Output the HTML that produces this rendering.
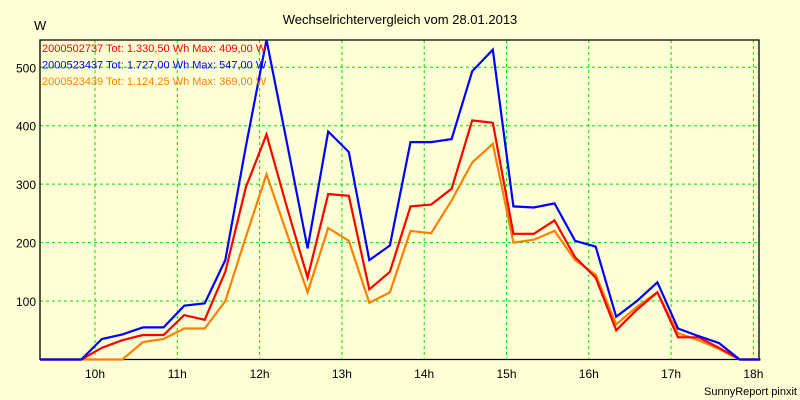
<!DOCTYPE html>
<html><head><meta charset="utf-8"><style>
body{margin:0;background:#ffffd6;}
svg{display:block;font-family:"Liberation Sans",sans-serif;}
</style></head><body>
<svg width="800" height="400">
<rect width="800" height="400" fill="#ffffd6"/>
<text x="400" y="24" font-size="13" text-anchor="middle">Wechselrichtervergleich vom 28.01.2013</text>
<text x="34" y="30" font-size="13">W</text>
<g id="grid"></g><g id="axes"></g><g id="series"></g><g id="legend"></g>
<text x="797" y="395" font-size="11" text-anchor="end">SunnyReport pinxit</text>
</svg>
<script>
const hourTicks=[10,11,12,13,14,15,16,17,18];
const yTicks=[100,200,300,400,500];
const startHour=9+20/60, stepHour=0.25;
const seriesNames=["2000502737 Tot: 1.330,50 Wh Max: 409,00 W","2000523437 Tot: 1.727,00 Wh Max: 547,00 W","2000523439 Tot: 1.124,25 Wh Max: 369,00 W"];
const redValues=[0,0,0,20,33,42,42,76,68,150,295,385,260,140,283,280,120,150,262,265,292,409,405,215,215,238,175,140,50,85,115,38,38,20,0,0];
const blueValues=[0,0,0,35,43,55,55,92,96,170,365,547,370,190,390,355,170,195,372,372,377,493,530,262,260,267,203,193,73,100,132,53,40,28,0,0];
const orangeValues=[0,0,0,0,0,30,35,53,53,100,210,317,215,115,225,203,97,115,220,216,272,337,369,200,205,220,170,145,60,90,115,45,33,18,0,0];
const L=40,R=759,T=40,B=359.5;
const xH=h=>95+(h-10)*82.3;
const yV=v=>B-v*0.5845;
const NS="http://www.w3.org/2000/svg";
function mk(tag,attrs,parent){const e=document.createElementNS(NS,tag);for(const k in attrs)e.setAttribute(k,attrs[k]);parent.appendChild(e);return e;}
const grid=document.getElementById('grid'),axes=document.getElementById('axes'),ser=document.getElementById('series'),leg=document.getElementById('legend');
mk('rect',{x:L,y:T,width:R-L,height:B-T,fill:'#ffffd6'},grid);
hourTicks.forEach(h=>{const x=xH(h);
 const l=mk('line',{x1:x,x2:x,y1:T,y2:B,stroke:'#00e000','stroke-dasharray':'3,3'},grid);
 
 
 const t=mk('text',{x:x,y:378,'font-size':12,'text-anchor':'middle'},axes);t.textContent=h+'h';
 
 
});
yTicks.forEach(v=>{const y=yV(v);
 const l=mk('line',{x1:L,x2:R,y1:y,y2:y,stroke:'#00e000','stroke-dasharray':'3,3'},grid);
 
 
 const t=mk('text',{x:36,y:y+5,'font-size':12,'text-anchor':'end'},axes);t.textContent=v;
 
 
});
const fr=mk('path',{d:`M${L},${T}H${R}V${B}H${L}Z`,fill:'none',stroke:'#000','stroke-width':1.3},axes);


function line(vals,color,name){
 const pts=vals.map((v,i)=>xH(startHour+i*stepHour).toFixed(1)+','+yV(v).toFixed(1)).join(' ');
 const p=mk('polyline',{points:pts,fill:'none',stroke:color,'stroke-width':2.2,'stroke-linejoin':'miter'},ser);
 
 
}
line(orangeValues,'#ff8000','series-2000523439');
line(redValues,'#ff0000','series-2000502737');
line(blueValues,'#0000ff','series-2000523437');
const cols=['#ff0000','#0000ff','#ff8000'];
seriesNames.forEach((n,i)=>{const t=mk('text',{x:42,y:52+i*16.5,'font-size':11,fill:cols[i]},leg);t.textContent=n;
 
 
});
</script>
</body></html>
